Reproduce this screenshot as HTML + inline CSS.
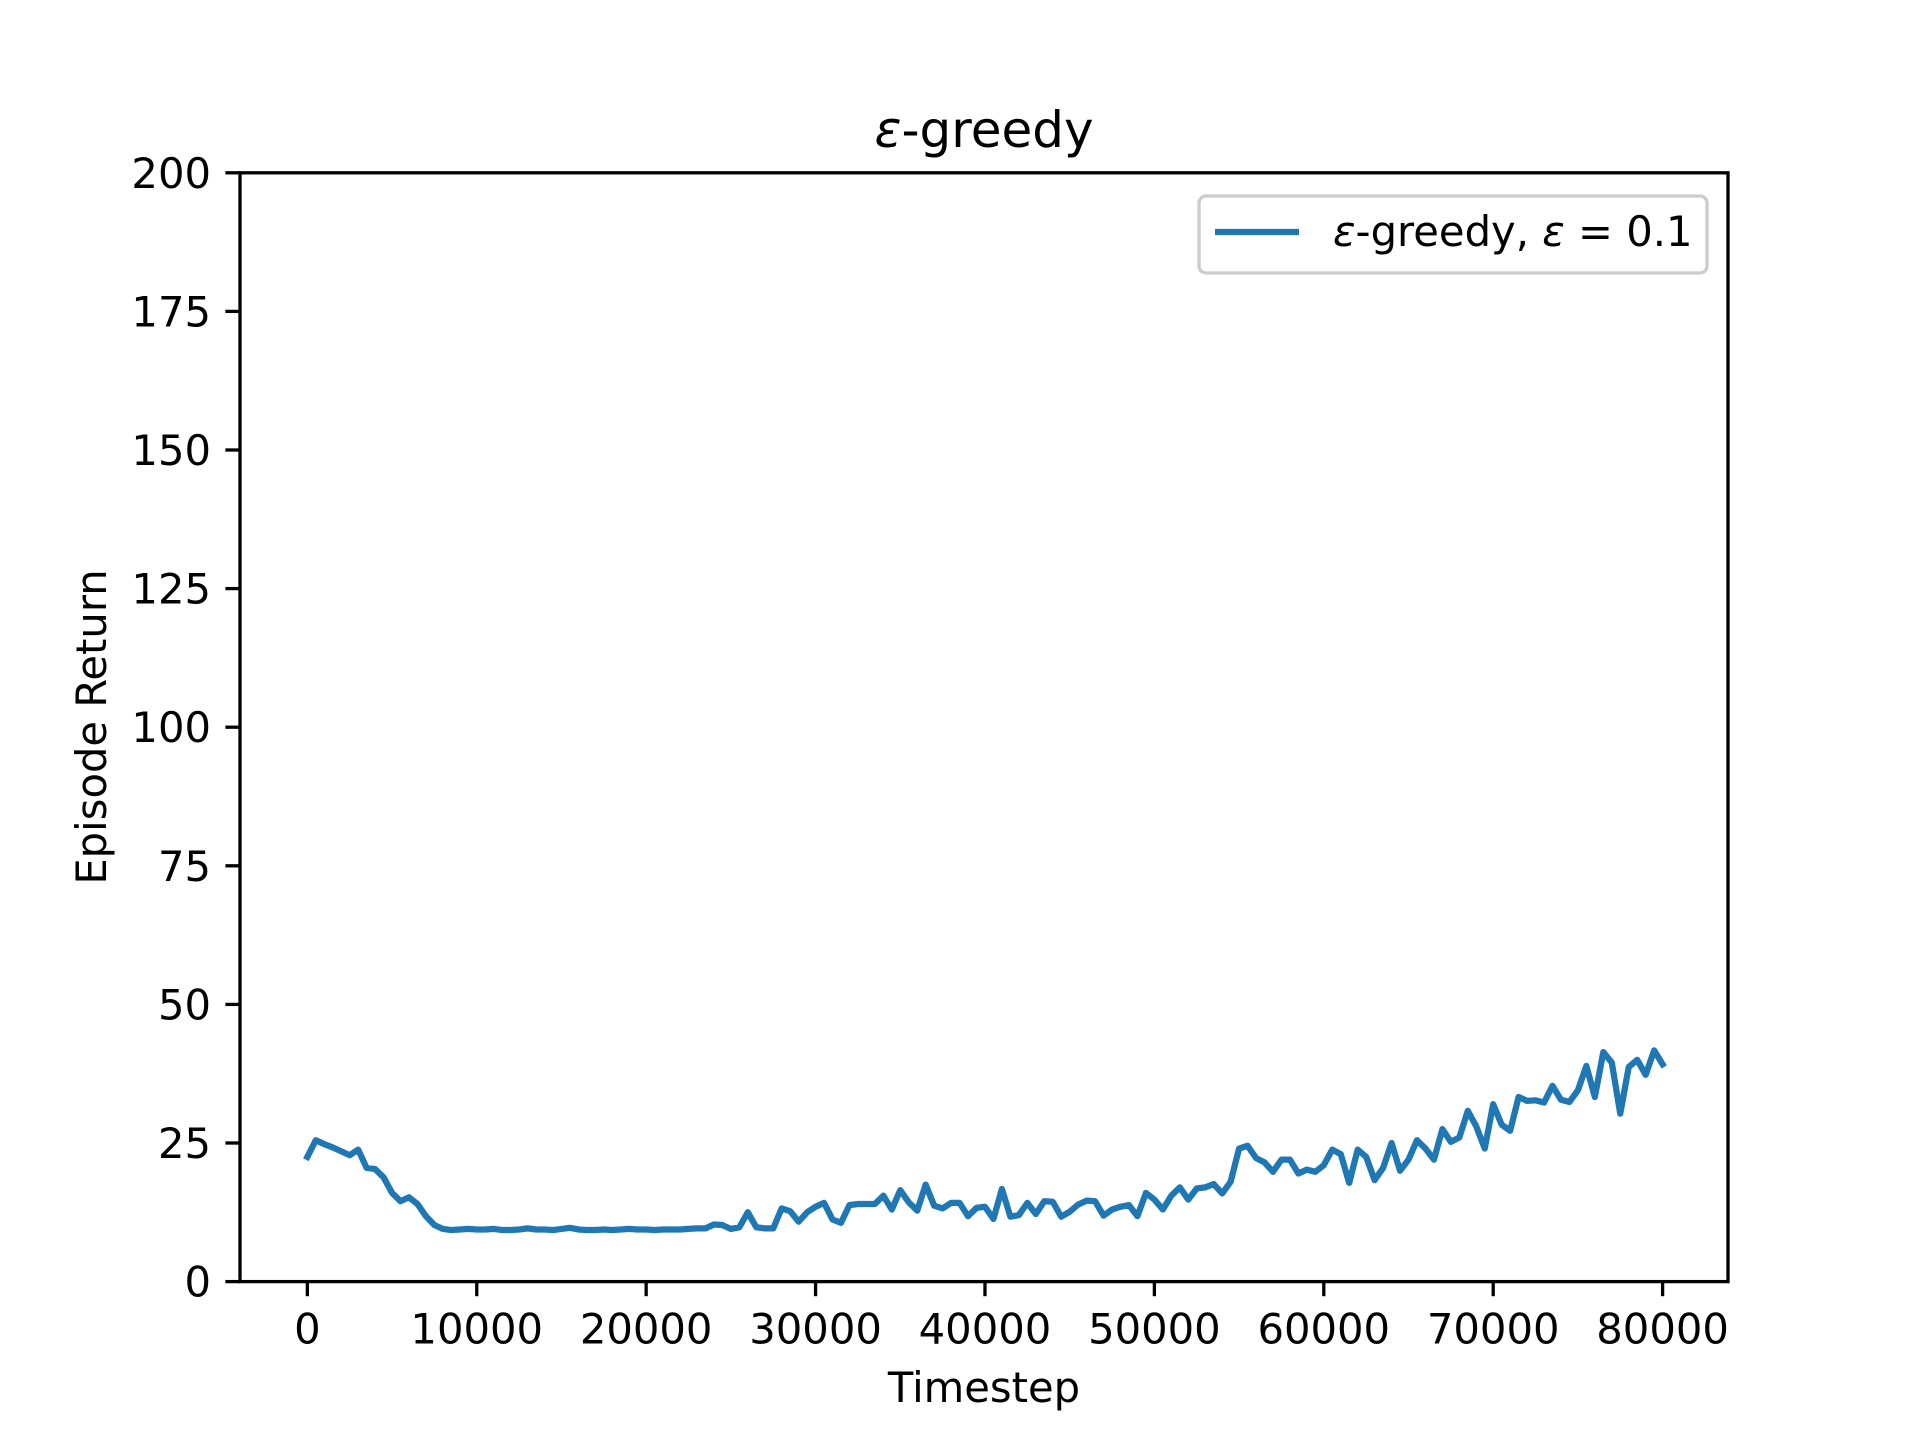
<!DOCTYPE html>
<html><head><meta charset="utf-8"><style>
html,body{margin:0;padding:0;background:#fff;}
svg{display:block;font-family:"DejaVu Sans","Liberation Sans",sans-serif;}
</style></head><body>
<svg id="chart" width="1920" height="1440" viewBox="0 0 1920 1440" xmlns="http://www.w3.org/2000/svg">
<rect width="1920" height="1440" fill="#fff"/>
<g id="plot"></g>
</svg>
<script>
const yValues = [22.5,25.5,24.8,24.2,23.5,22.8,23.8,20.5,20.3,18.8,16,14.5,15.2,14,11.8,10.2,9.5,9.3,
9.4,9.5,9.4,9.4,9.5,9.3,9.3,9.4,9.6,9.4,9.4,9.3,9.5,9.7,9.4,9.3,9.3,9.4,9.3,9.4,9.5,9.4,9.4,9.3,9.4,9.4,9.4,9.5,9.6,9.6,
10.3,10.2,9.5,9.8,12.5,9.8,9.6,9.6,13.2,12.7,10.8,12.5,13.5,14.2,11.2,10.6,13.8,14,14,14,15.5,13,16.5,14.3,12.8,17.5,13.7,13.2,14.2,14.2,
11.8,13.3,13.5,11.3,16.7,11.7,12,14.2,12.2,14.5,14.4,11.7,12.6,13.9,14.6,14.5,11.9,13,13.5,13.8,11.8,16,14.8,13,15.5,17,14.8,16.8,17,17.6,
15.9,18,24,24.5,22.3,21.5,19.8,22,22,19.5,20.2,19.8,21,23.8,23,17.8,23.8,22.5,18.3,20.5,25,20,22,25.5,24,22,27.5,25.2,26,30.8,28,24,
32,28.3,27.2,33.3,32.6,32.7,32.3,35.3,32.8,32.4,34.5,38.9,33.3,41.4,39.5,30.3,38.7,40,37.3,41.7,39.2];
const xStep = 500;
const xTicks = [0,10000,20000,30000,40000,50000,60000,70000,80000];
const yTicks = [0,25,50,75,100,125,150,175,200];

const NS='http://www.w3.org/2000/svg';
const L=240,R=1728,T=172.8,B=1281.6;
const xMin=-3975,xMax=83860,yMin=0,yMax=200;
const sx=v=>L+(v-xMin)/(xMax-xMin)*(R-L);
const sy=v=>B-(v-yMin)/(yMax-yMin)*(B-T);
const g=document.getElementById('plot');
function mk(tag,attrs,text){const e=document.createElementNS(NS,tag);for(const k in attrs)e.setAttribute(k,attrs[k]);if(text!=null)e.textContent=text;g.appendChild(e);return e;}

let d='';
yValues.forEach((v,i)=>{d+=(i?'L':'M')+sx(i*xStep).toFixed(2)+','+sy(v).toFixed(2);});
const line=mk('path',{d:d,fill:'none',stroke:'#1f77b4','stroke-width':6.25,'stroke-linejoin':'round','stroke-linecap':'square'});



const frame=mk('rect',{x:L,y:T,width:R-L,height:B-T,fill:'none',stroke:'#000','stroke-width':3.3});



xTicks.forEach(t=>{
  const x=sx(t);
  const tk=mk('line',{x1:x,x2:x,y1:B,y2:B+14.6,stroke:'#000','stroke-width':3.3});
  
  
  const lb=mk('text',{x:x,y:B+62,'font-size':41.7,'text-anchor':'middle',fill:'#000'},String(t));
  
  
});
yTicks.forEach(t=>{
  const y=sy(t);
  const tk=mk('line',{x1:L-14.6,x2:L,y1:y,y2:y,stroke:'#000','stroke-width':3.3});
  
  
  const lb=mk('text',{x:L-29,y:y+15,'font-size':41.7,'text-anchor':'end',fill:'#000'},String(t));
  
  
});

const xt=mk('text',{x:(L+R)/2,y:1402,'font-size':41.7,'text-anchor':'middle'},'Timestep');


const yt=mk('text',{x:0,y:0,'font-size':41.7,'text-anchor':'middle',transform:'translate(106,727) rotate(-90)'},'Episode Return');


const tt=mk('text',{x:(L+R)/2,y:147,'font-size':50,'text-anchor':'middle'});
tt.innerHTML='<tspan font-style="italic">ε</tspan>-greedy';



const lg=mk('rect',{x:1206,y:196,width:508,height:77,rx:7,fill:'#fff','fill-opacity':0.8,stroke:'#ccc','stroke-width':3.3,transform:'translate(-7,0)'});


const ll=mk('line',{x1:1215,x2:1299,y1:232,y2:232,stroke:'#1f77b4','stroke-width':6.25});


const lt=mk('text',{x:1333,y:246,'font-size':41.7});
lt.innerHTML='<tspan font-style="italic">ε</tspan>-greedy, <tspan font-style="italic">ε</tspan> = 0.1';


</script>
</body></html>
